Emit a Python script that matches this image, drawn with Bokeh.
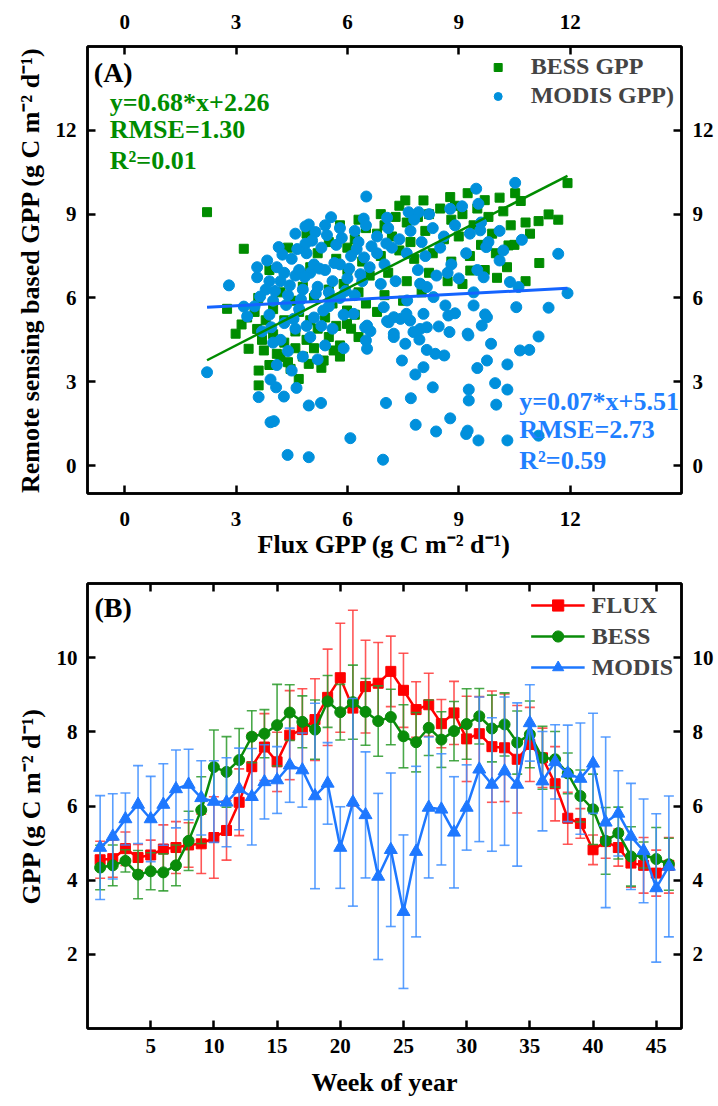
from bokeh.plotting import figure
from bokeh.models import LinearAxis, FixedTicker, Range1d, Label
from bokeh.layouts import column
from bokeh.embed import file_html
from bokeh.resources import INLINE

FONT = "Liberation Serif"

# ---------------- Panel A data (Flux GPP vs remote-sensing GPP) ----------------
bess_flux = [2.22,3.21,11.93,10.52,10.67,10.10,9.24,8.77,8.05,7.56,11.42,11.68,11.15,10.92,11.17,10.34,10.03,9.31,
             2.99,3.15,3.57,3.34,3.61,3.61,3.75,4.20,4.69,4.47,4.96,2.76,5.36,5.63,5.99,5.99,
             9.50,9.80,10.20,10.40,10.80,9.90,9.40,9.10,8.80,8.50,8.20,7.90,7.60,7.30,7.00,6.80,6.50,6.20,6.00,7.20,7.70,8.10,8.60,9.00,9.60,10.00,10.50,9.30,8.80,8.30,7.80,7.40,6.90,6.40,6.00,5.70,5.50,5.20,5.00,6.60,7.10,7.60,8.20,8.70,9.10,9.70,10.30,10.80,5.90,6.30,7.00,7.50,8.00,5.50,5.10,4.80,4.50,8.90,9.70,7.40,6.90,6.30,5.80,4.90,4.40,3.90,
             3.50,3.80,4.00,4.30,4.60,4.90,5.20,5.50,5.80,4.10,4.40,4.80,5.10,5.40,5.70,4.00,4.30,4.70,5.00,3.70,3.90,4.60,5.30,5.60,6.20,6.50,6.80,6.10,3.30,3.60,4.20,5.80,6.30]
bess_gpp = [9.07,7.76,10.11,9.75,9.47,9.59,9.75,9.61,9.49,9.49,8.99,8.80,8.75,8.30,7.25,7.88,6.72,6.98,
            4.72,5.05,4.89,4.18,3.40,2.87,4.12,3.88,3.10,3.46,3.64,5.61,3.76,4.12,5.07,5.55,
            9.20,8.90,9.10,8.60,8.70,8.30,8.60,9.00,8.80,9.20,9.00,8.90,8.70,8.90,8.60,8.30,8.50,8.10,7.80,8.20,8.00,8.40,8.10,8.20,7.90,7.60,7.90,7.50,7.30,7.60,7.40,7.70,7.50,7.30,7.00,7.40,8.00,7.60,7.10,6.80,6.90,6.60,6.90,6.60,6.50,7.00,7.10,6.60,6.50,6.20,6.10,5.90,6.20,6.30,6.00,6.40,5.90,9.30,9.50,9.30,9.00,8.80,8.60,8.30,7.80,7.00,
            5.50,5.20,4.70,4.40,4.80,4.50,4.90,4.60,4.30,4.00,3.70,3.90,4.20,5.30,5.00,5.60,5.20,5.50,5.20,4.50,3.60,4.20,3.50,5.80,5.40,5.80,5.50,4.90,5.30,6.00,6.20,3.90,4.60]

modis_flux = [2.22,3.61,3.93,4.02,4.39,4.96,4.96,5.29,4.29,4.08,3.93,4.63,6.08,6.96,7.04,7.71,7.84,8.30,8.39,8.77,9.20,9.24,9.53,10.31,11.15,9.27,9.27,10.01,9.98,10.31,9.50,9.76,10.31,10.65,10.90,11.15,11.42,9.87,9.62,9.71,9.24,8.75,8.61,8.37,8.14,8.05,7.83,7.47,7.56,7.25,6.53,6.50,6.62,6.48,6.17,6.98,7.07,7.43,7.69,7.96,8.14,8.46,8.72,8.64,8.90,9.40,10.55,7.78,7.94,
              6.51,10.52,9.47,9.53,9.09,8.77,7.92,7.65,7.07,6.44,5.56,4.96,4.87,4.60,5.14,10.70,11.68,11.93,10.38,10.61,10.10,9.74,9.58,9.67,9.76,9.26,8.32,8.14,7.96,7.61,8.05,7.59,7.25,7.11,7.25,6.53,2.81,3.57,3.21,3.30,3.84,4.15,4.87,3.57,
              3.80,4.00,4.20,4.40,4.60,4.80,5.00,5.20,5.40,5.60,5.80,6.00,4.10,4.50,4.90,5.30,5.70,6.10,6.30,3.90,4.30,4.70,5.10,5.50,5.90,6.20,4.20,4.60,5.00,5.40,4.40,4.80,5.20,3.70,4.00,5.60,4.50,4.10,5.90,3.50,4.70,5.10,5.50,4.30,3.90,5.30,5.80,4.90,6.40,6.60,6.80,7.00,
              6.50,6.80,7.10,7.40,7.70,8.00,8.30,8.60,8.90,7.20,7.60,8.10,8.50,8.80,9.20,9.50,7.90,8.40,7.30,6.90,9.00,9.40,8.70,6.20,5.80,5.40,7.80,8.20,9.30,9.80,10.20,9.60,10.10,
              4.25,4.65,5.05,5.45,5.85,6.25,4.45,4.85,5.25,5.65,6.05,6.45,4.05,3.65,4.35,4.75,5.15,5.55,5.95,6.35,5.35,4.55,3.95,6.65,7.05]
modis_gpp = [3.34,2.45,1.55,1.59,0.38,0.30,2.15,2.24,2.47,2.80,3.08,2.78,0.98,0.21,2.24,2.41,1.46,2.80,1.22,1.69,1.13,1.25,0.90,0.90,1.07,2.33,2.72,2.18,2.95,2.72,3.49,3.76,3.62,4.12,4.14,4.62,5.65,4.36,5.01,5.41,4.72,4.78,3.94,4.00,4.14,3.52,3.26,3.76,4.36,4.60,4.18,4.48,4.81,4.95,5.43,5.67,5.17,5.25,5.19,4.89,4.95,4.98,5.37,5.73,5.45,5.73,5.67,4.78,4.51,
             9.63,10.12,9.91,9.37,9.28,9.19,9.07,9.07,8.87,8.84,8.89,8.63,8.56,8.30,8.36,8.08,7.58,6.17,6.57,6.39,7.34,7.82,8.42,6.74,5.31,4.66,6.03,6.39,6.51,5.91,5.43,5.43,5.31,5.13,4.72,5.01,6.45,6.74,5.69,5.34,7.34,7.82,7.94,7.10,
             6.30,5.90,6.60,6.10,6.80,6.30,6.90,6.40,7.00,6.60,7.20,6.70,7.10,7.40,7.60,7.80,7.90,7.50,8.00,5.40,5.10,5.60,5.30,5.70,5.40,6.10,4.50,4.90,4.60,4.30,4.10,3.90,3.80,4.80,4.40,4.90,3.40,3.60,4.20,5.70,7.00,7.20,6.20,6.90,6.60,5.00,6.00,5.00,6.60,7.10,7.60,7.20,
             8.60,8.20,8.50,8.10,8.40,8.00,8.50,8.20,8.60,7.80,7.60,7.50,7.80,7.20,7.60,7.00,7.00,6.80,6.60,6.50,6.70,6.20,6.90,8.40,8.50,8.60,8.80,9.00,8.30,8.00,7.70,8.70,8.40,
             7.55,7.75,8.05,8.25,8.15,7.75,6.45,6.75,7.05,7.25,7.05,7.45,6.25,6.05,5.75,5.95,6.15,5.95,6.25,6.85,5.55,5.25,4.95,7.85,7.95]

# regression coefficients as printed on the chart
bess_fit = (0.68, 2.26)
modis_fit = (0.07, 5.51)
bess_stats = ["y=0.68*x+2.26", "RMSE=1.30", "R\u00b2=0.01"]
modis_stats = ["y=0.07*x+5.51", "RMSE=2.73", "R\u00b2=0.59"]
ticks_a = [0, 3, 6, 9, 12]

# ---------------- Panel B data (weekly means and std) ----------------
weeks = list(range(1, 47))
flux_mean = [4.55,4.58,4.85,4.61,4.68,4.84,4.88,4.95,4.98,5.15,
             5.34,6.10,7.06,7.59,7.19,7.91,8.06,8.33,8.93,9.46,
             8.64,9.22,9.31,9.63,9.12,8.60,8.73,8.22,8.51,7.81,
             7.95,7.60,7.57,7.26,7.66,7.30,6.60,5.67,5.53,4.82,
             5.04,4.88,4.46,4.40,4.19,4.40]
flux_sd = [0.50,0.50,0.45,0.35,0.40,0.65,0.70,0.60,0.80,1.10,
           0.80,0.90,0.90,0.90,0.80,1.20,1.10,1.10,1.30,1.47,
           2.64,1.25,1.10,0.95,1.00,0.75,0.85,0.65,0.85,1.15,
           1.00,1.50,1.45,1.45,1.00,0.80,1.00,0.70,0.40,0.40,
           0.45,0.50,0.65,0.75,0.62,0.75]
bess_mean = [4.34,4.40,4.52,4.15,4.24,4.21,4.40,5.06,5.89,7.05,
             6.92,7.24,7.87,7.95,8.18,8.52,8.27,8.06,8.82,8.53,
             8.80,8.54,8.29,8.40,7.88,7.72,8.11,7.79,8.02,8.21,
             8.42,8.09,8.20,7.71,7.93,7.30,7.26,6.88,6.27,5.91,
             5.06,5.27,4.64,4.68,4.57,4.43]
bess_sd = [0.60,0.55,0.30,0.65,0.50,0.50,0.55,0.80,0.90,1.00,
           0.95,0.85,0.70,0.65,1.10,0.75,0.70,0.80,0.70,0.75,
           1.00,0.90,0.95,0.75,0.85,0.80,0.75,0.75,0.80,0.95,
           0.75,0.90,0.85,0.85,0.90,0.85,0.75,0.55,0.70,0.95,
           0.90,0.70,0.80,0.35,0.85,0.70]
modis_mean = [4.88,5.18,5.65,6.04,5.65,6.04,6.46,6.58,6.22,6.12,
              6.10,6.46,6.25,6.65,6.70,7.10,6.97,6.27,6.61,4.88,
              6.10,5.76,4.10,4.82,3.15,4.77,5.96,5.91,5.29,5.96,
              6.99,6.58,6.94,6.58,8.24,6.67,7.19,6.88,6.74,7.15,
              5.56,5.80,5.18,4.79,3.79,4.37]
modis_sd = [1.40,1.15,0.70,1.05,1.15,1.10,1.05,0.95,1.00,1.10,
            1.20,1.10,1.30,1.00,0.90,1.00,1.00,2.50,1.10,1.10,
            2.80,1.70,2.24,2.07,2.07,2.30,1.90,1.50,1.50,1.15,
            1.95,1.80,2.00,2.20,1.03,1.34,1.00,1.30,1.50,1.35,
            2.30,1.15,1.43,1.40,2.00,1.90]
ticks_b_x = [5, 10, 15, 20, 25, 30, 35, 40, 45]
ticks_b_y = [2, 4, 6, 8, 10]

GREEN = "#008C00"
BLUE_PT = "#0090DC"
BLUE_LINE = "#1464FF"
BLUE_TXT = "#1F80FF"


def style_axis(ax, ticks, labels=True, standoff=10, title_standoff=8):
    ax.ticker = FixedTicker(ticks=ticks)
    ax.major_tick_in = 8
    ax.major_tick_out = 0
    ax.minor_tick_in = 0
    ax.minor_tick_out = 0
    ax.axis_line_width = 2.5
    ax.axis_line_color = "black"
    ax.major_tick_line_width = 2.5
    ax.major_tick_line_color = "black"
    ax.major_label_text_font = FONT
    ax.major_label_text_font_style = "bold"
    if labels:
        ax.major_label_text_color = "black"
        ax.major_label_text_font_size = "21px"
        ax.major_label_standoff = standoff
    else:
        ax.major_label_text_color = None
        ax.major_label_text_font_size = "1px"
        ax.major_label_standoff = 0
    ax.axis_label_text_font = FONT
    ax.axis_label_text_font_style = "bold"
    ax.axis_label_text_font_size = "26px"
    ax.axis_label_text_color = "black"
    ax.axis_label_standoff = title_standoff


# ---------------- Figure A ----------------
pa = figure(width=716, height=568, x_range=Range1d(-1, 15), y_range=Range1d(-1, 15),
            output_backend="svg", toolbar_location=None,
            min_border_left=87, min_border_right=34, min_border_top=46, min_border_bottom=75)
pa.xgrid.visible = False
pa.ygrid.visible = False
pa.outline_line_color = "black"
pa.outline_line_width = 2.5
pa.background_fill_color = "white"
pa.border_fill_color = "white"

nb = min(len(bess_flux), len(bess_gpp))
nm = min(len(modis_flux), len(modis_gpp))
pa.scatter(bess_flux[:nb], bess_gpp[:nb], marker="square", size=9, color=GREEN,
           legend_label="BESS GPP")
pa.scatter(modis_flux[:nm], modis_gpp[:nm], marker="circle", size=11, color=BLUE_PT,
           legend_label="MODIS GPP)")

bx = [min(bess_flux), max(bess_flux)]
pa.line(bx, [bess_fit[0] * v + bess_fit[1] for v in bx], line_color=GREEN, line_width=2.5)
mx = [min(modis_flux), max(modis_flux)]
pa.line(mx, [modis_fit[0] * v + modis_fit[1] for v in mx], line_color=BLUE_LINE, line_width=3)

style_axis(pa.xaxis[0], ticks_a, standoff=18, title_standoff=1)
pa.xaxis[0].axis_label = "Flux GPP (g C m\u207b\u00b2 d\u207b\u00b9)"
style_axis(pa.yaxis[0], ticks_a, standoff=11, title_standoff=8)
pa.yaxis[0].axis_label = "Remote sensing based GPP (g C m\u207b\u00b2 d\u207b\u00b9)"
ta = LinearAxis()
style_axis(ta, ticks_a, standoff=18)
pa.add_layout(ta, "above")
ra = LinearAxis()
style_axis(ra, ticks_a, standoff=11)
pa.add_layout(ra, "right")

pa.add_layout(Label(x=-0.83, y=14.08, text="(A)", text_font=FONT, text_font_style="bold",
                    text_font_size="28px", text_color="black", text_baseline="middle"))
for txt, yy in zip(bess_stats, [13.0, 12.03, 10.92]):
    pa.add_layout(Label(x=-0.4, y=yy, text=txt, text_font=FONT, text_font_style="bold",
                        text_font_size="26px", text_color=GREEN, text_baseline="middle"))
for txt, yy in zip(modis_stats, [2.29, 1.29, 0.18]):
    pa.add_layout(Label(x=10.63, y=yy, text=txt, text_font=FONT, text_font_style="bold",
                        text_font_size="26px", text_color=BLUE_TXT, text_baseline="middle"))

lg = pa.legend[0]
lg.location = "top_right"
lg.border_line_color = None
lg.background_fill_alpha = 0
lg.label_text_font = FONT
lg.label_text_font_style = "bold"
lg.label_text_font_size = "24px"
lg.glyph_width = 20
lg.glyph_height = 24
lg.label_height = 24
lg.label_standoff = 23
lg.spacing = 2
lg.padding = 4
lg.margin = 7

# ---------------- Figure B ----------------
pb = figure(width=716, height=536, x_range=Range1d(0, 47), y_range=Range1d(0, 12),
            output_backend="svg", toolbar_location=None,
            min_border_left=87, min_border_right=34, min_border_top=15, min_border_bottom=76)
pb.xgrid.visible = False
pb.ygrid.visible = False
pb.outline_line_color = "black"
pb.outline_line_width = 2.5
pb.background_fill_color = "white"
pb.border_fill_color = "white"

series = [
    ("FLUX", flux_mean, flux_sd, "#FF0000", "#FF3A3A", "square", 10),
    ("BESS", bess_mean, bess_sd, "#0A8C0A", "#2A9A2A", "circle", 11),
    ("MODIS", modis_mean, modis_sd, "#1E78FF", "#3D8EFF", "triangle", 13),
]
for name, mean, sd, col, ecol, mk, sz in series:
    lo = [m - s for m, s in zip(mean, sd)]
    hi = [m + s for m, s in zip(mean, sd)]
    pb.segment(weeks, lo, weeks, hi, line_color=ecol, line_width=1.6, line_alpha=0.85)
    pb.scatter(weeks, lo, marker="dash", size=10, line_color=ecol, line_width=1.6, line_alpha=0.85)
    pb.scatter(weeks, hi, marker="dash", size=10, line_color=ecol, line_width=1.6, line_alpha=0.85)
    pb.line(weeks, mean, line_color=col, line_width=2.5, legend_label=name)
    pb.scatter(weeks, mean, marker=mk, size=sz, color=col, legend_label=name)

style_axis(pb.xaxis[0], ticks_b_x, standoff=10, title_standoff=12)
pb.xaxis[0].axis_label = "Week of year"
style_axis(pb.yaxis[0], ticks_b_y, standoff=10, title_standoff=8)
pb.yaxis[0].axis_label = "GPP (g C m\u207b\u00b2 d\u207b\u00b9)"
tb = LinearAxis()
style_axis(tb, ticks_b_x, labels=False)
pb.add_layout(tb, "above")
rb = LinearAxis()
style_axis(rb, ticks_b_y, standoff=11)
pb.add_layout(rb, "right")

pb.add_layout(Label(x=0.55, y=11.35, text="(B)", text_font=FONT, text_font_style="bold",
                    text_font_size="28px", text_color="black", text_baseline="middle"))

lb = pb.legend[0]
lb.location = "top_right"
lb.border_line_color = None
lb.background_fill_alpha = 0
lb.label_text_font = FONT
lb.label_text_font_style = "bold"
lb.label_text_font_size = "24px"
lb.glyph_width = 54
lb.glyph_height = 28
lb.label_height = 28
lb.label_standoff = 7
lb.spacing = 3
lb.padding = 3
lb.margin = 8

layout = column(pa, pb, spacing=0)
open("out.html", "w").write(file_html(layout, INLINE))
